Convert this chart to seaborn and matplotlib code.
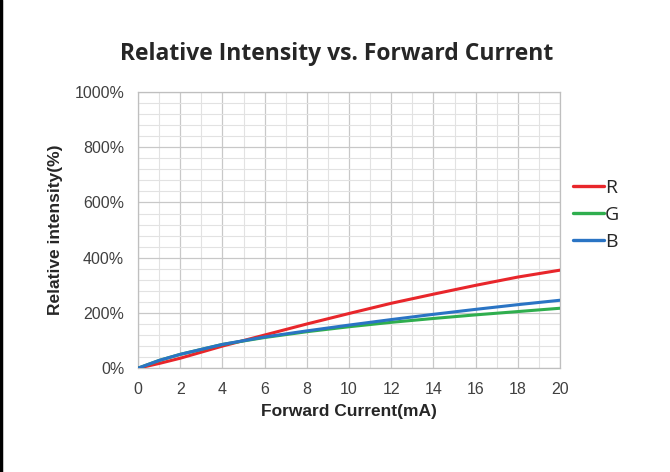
import numpy as np
import pandas as pd
import seaborn as sns
import matplotlib.pyplot as plt
from matplotlib.ticker import MultipleLocator, FuncFormatter
from matplotlib.lines import Line2D

# Data
current = [0, 1, 2, 4, 6, 8, 10, 12, 14, 16, 18, 20]
red = [0, 17, 36, 80, 120, 160, 198, 235, 268, 300, 330, 355]
green = [0, 28, 50, 86, 111, 132, 150, 166, 180, 193, 205, 217]
blue = [0, 28, 50, 86, 113, 135, 156, 176, 195, 213, 230, 246]
series = ['R', 'G', 'B']
colors = ['#e8262b', '#2fae4e', '#2a74c4']

df = pd.DataFrame({'current': current, 'R': red, 'G': green, 'B': blue})
df = df.melt(id_vars='current', var_name='channel', value_name='intensity')

sns.set_style('white')
plt.rcParams['font.family'] = ['Liberation Sans', 'DejaVu Sans']

fig = plt.figure(figsize=(6.7, 4.72), dpi=100)
ax = fig.add_axes([0.206, 0.220, 0.630, 0.585])

sns.lineplot(data=df, x='current', y='intensity', hue='channel', hue_order=series,
             palette=colors, linewidth=2.2, legend=False, ax=ax, zorder=3)

ax.set_xlim(0, 20)
ax.set_ylim(0, 1000)
ax.xaxis.set_major_locator(MultipleLocator(2))
ax.xaxis.set_minor_locator(MultipleLocator(1))
ax.yaxis.set_major_locator(MultipleLocator(200))
ax.yaxis.set_minor_locator(MultipleLocator(40))
ax.yaxis.set_major_formatter(FuncFormatter(lambda v, p: f'{v:.0f}%'))
ax.grid(which='major', color='#c8c8c8', linewidth=0.9)
ax.grid(which='minor', color='#e2e2e2', linewidth=0.8)
ax.set_axisbelow(True)
for s in ax.spines.values():
    s.set_color('#bfbfbf')
    s.set_linewidth(0.9)
ax.tick_params(axis='both', which='major', length=4, color='#bfbfbf',
               labelsize=11.5, labelcolor='#404040', pad=6)
ax.tick_params(axis='both', which='minor', length=0)

ax.set_xlabel('Forward Current(mA)', fontsize=12.5, fontweight='bold', labelpad=5)
ax.set_ylabel('Relative intensity(%)', fontsize=12.5, fontweight='bold', labelpad=8)

fig.text(0.503, 0.885, 'Relative Intensity vs. Forward Current', ha='center', va='center',
         fontsize=16.5, fontweight='bold', family=['Open Sans', 'DejaVu Sans'])

handles = [Line2D([], [], color=c, linewidth=2.4) for c in colors]
fig.legend(handles, series, loc='center left', bbox_to_anchor=(0.829, 0.545),
           frameon=False, handlelength=1.6, handletextpad=0.05, labelspacing=0.45,
           prop={'family': ['Open Sans', 'DejaVu Sans'], 'size': 14})

# left border line as in the reference
fig.add_artist(Line2D([0.002, 0.002], [0, 1], color='black', linewidth=2.5,
                      transform=fig.transFigure))

fig.savefig('out.png', dpi=100)
